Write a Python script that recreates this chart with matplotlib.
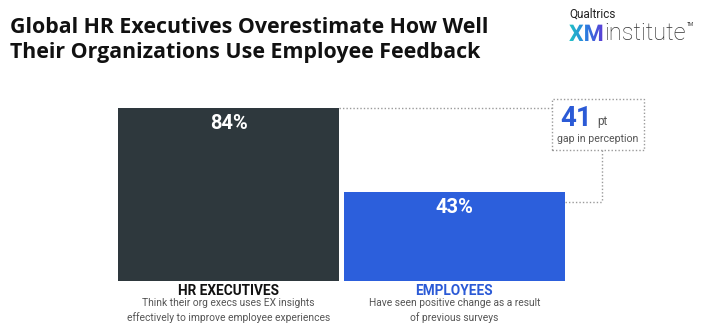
import matplotlib
matplotlib.use("Agg")
import matplotlib.pyplot as plt
import numpy as np
from matplotlib.textpath import TextPath
from matplotlib.patches import PathPatch, Rectangle
from matplotlib.font_manager import FontProperties
from matplotlib.colors import LinearSegmentedColormap

# data
groups = ["HR EXECUTIVES", "EMPLOYEES"]
values = [84, 43]
descriptions = ["Think their org execs uses EX insights\neffectively to improve employee experiences",
                "Have seen positive change as a result\nof previous surveys"]
gap_label = "gap in perception"
title = "Global HR Executives Overestimate How Well\nTheir Organizations Use Employee Feedback"

bar_colors = ["#2e383d", "#2c5fdc"]
name_colors = ["#111111", "#2b5ad6"]
blue = "#2b5ad6"
grey = "#555555"
dot = "#9a9a9a"

W, H = 706, 334
fig = plt.figure(figsize=(W / 100, H / 100), dpi=100)
fig.patch.set_facecolor("white")

# main axes spans the whole figure; pixel -> data mapping
px_per_x = 225.85
x0_px = 228.5
px_per_y = 2.063
y0_px = 281
ax = fig.add_axes([0, 0, 1, 1])
ax.set_xlim(-x0_px / px_per_x, (W - x0_px) / px_per_x)
ax.set_ylim(-(H - y0_px) / px_per_y, y0_px / px_per_y)
ax.axis("off")

def px(x):
    return (x - x0_px) / px_per_x

def py(y):
    return (y0_px - y) / px_per_y

xs = np.arange(len(values))
width = 0.9785
ax.bar(xs, values, width=width, color=bar_colors, zorder=2)

font = "Roboto"
for i, v in enumerate(values):
    ax.text(xs[i], v - 7.5, f"{v}%", ha="center", va="center", color="white",
            fontsize=14.5, fontweight="bold", family=font)
    ax.text(xs[i], py(291), groups[i], ha="center", va="center", color=name_colors[i],
            fontsize=9.8, fontweight="bold", family=font)
    ax.text(xs[i], py(310.5), descriptions[i], ha="center", va="center", color=grey,
            fontsize=7.4, family=font, linespacing=1.35)

# gap annotation
gap = values[0] - values[1]
bx0, bx1, by0, by1 = px(552), px(644), py(150), py(99.3)
ls = (0, (1, 1.5))
ax.plot([xs[0] + width / 2, bx0], [values[0], values[0]], color=dot, lw=1, ls=ls)
ax.add_patch(Rectangle((bx0, by0), bx1 - bx0, by1 - by0, fill=False,
                       edgecolor=dot, lw=1, ls=ls))
cx = px(601.7)
ycon = py(202)
ax.plot([cx, cx], [by0, ycon], color=dot, lw=1, ls=ls)
ax.plot([xs[1] + width / 2, cx], [ycon, ycon], color=dot, lw=1, ls=ls)
ax.text(px(592), py(118), str(gap), ha="right", va="center", color=blue,
        fontsize=20, fontweight="bold", family=font)
ax.text(px(597), py(122), "pt", ha="left", va="center", color=grey,
        fontsize=8.5, family=font)
ax.text(px(598), py(139), gap_label, ha="center", va="center", color=grey,
        fontsize=7.6, family=font)

# title
fig.text(10 / W, 1 - 17 / H, title, ha="left", va="top", fontsize=15.4,
         fontweight="bold", family="Open Sans", color="#111111", linespacing=1.22)

# logo
lax = fig.add_axes([560 / W, 1 - 50 / H, 146 / W, 50 / H])
lax.set_xlim(560, 706)
lax.set_ylim(H - 50, H)
lax.axis("off")
lax.text(569, H - 14, "Qualtrics", ha="left", va="center", fontsize=8.5,
         family=font, color="#222222")
tp = TextPath((569, H - 41), "XM", size=23, prop=FontProperties(family=font, weight="bold"))
patch = PathPatch(tp, facecolor="none", edgecolor="none")
lax.add_patch(patch)
grad = np.linspace(0, 1, 100).reshape(1, -1)
cmap = LinearSegmentedColormap.from_list("xm", ["#21c4c4", "#2b7de0", "#5b3fd6"])
bb = tp.get_extents()
im = lax.imshow(grad, cmap=cmap, extent=[bb.x0, bb.x1, bb.y0, bb.y1], aspect="auto")
im.set_clip_path(patch)
lax.text(604, H - 33, "institute", ha="left", va="center", fontsize=17,
         family=font, fontweight="light", color="#333333")
lax.text(687, H - 24, "TM", ha="left", va="center", fontsize=3.5, family=font, color="#333333")
lax.set_xlim(560, 706)
lax.set_ylim(H - 50, H)

fig.savefig("out.png", dpi=100)
